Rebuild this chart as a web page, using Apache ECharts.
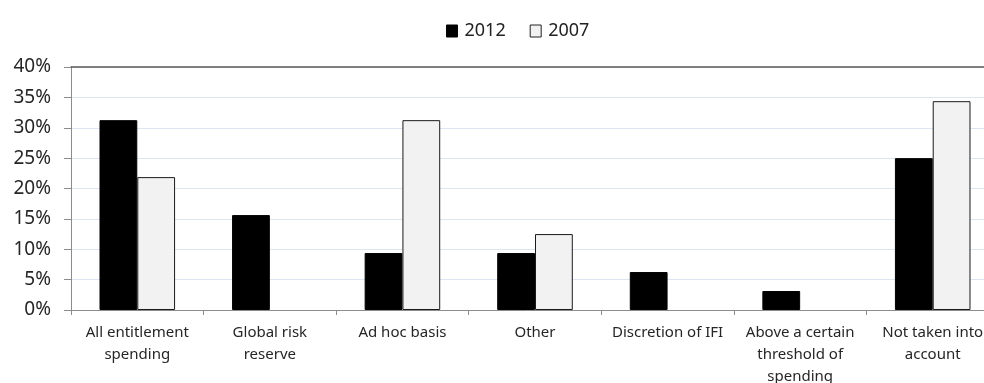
<!DOCTYPE html>
<html>
<head>
<meta charset="utf-8">
<script src="https://cdn.jsdelivr.net/npm/echarts@6/dist/echarts.min.js"></script>
<style>
  html, body { margin: 0; padding: 0; background: #fff; }
  #chart { width: 984px; height: 383px; }
</style>
</head>
<body>
<div id="chart"></div>
<script>
// How the fiscal cost is accounted for, share of responses
const categories = [
  'All entitlement\nspending',
  'Global risk\nreserve',
  'Ad hoc basis',
  'Other',
  'Discretion of IFI',
  'Above a certain\nthreshold of\nspending',
  'Not taken into\naccount'
];
const values2012 = [0.3125, 0.15625, 0.09375, 0.09375, 0.0625, 0.03125, 0.25];
const values2007 = [0.21875, 0, 0.3125, 0.125, 0, 0, 0.34375];
const yTicks = [0, 0.05, 0.10, 0.15, 0.20, 0.25, 0.30, 0.35, 0.40];

const FONT = '"Noto Sans", sans-serif';

// empty bars get no outline so a zero share leaves no mark
const asBars = (vals) => vals.map(v => (v === 0 ? { value: v, itemStyle: { borderWidth: 0 } } : v));

const chart = echarts.init(document.getElementById('chart'), null, { renderer: 'canvas' });
chart.setOption({
  animation: false,
  backgroundColor: '#ffffff',
  textStyle: { fontFamily: FONT },
  legend: {
    top: 17,
    left: 441,
    itemWidth: 11,
    itemHeight: 12,
    itemGap: 24,
    textStyle: { fontSize: 18, color: '#222', fontFamily: FONT, padding: [0, 0, 0, 2] },
    data: [
      { name: '2012', icon: 'rect', itemStyle: { color: '#000', borderColor: '#000', borderWidth: 1 } },
      { name: '2007', icon: 'rect', itemStyle: { color: '#f2f2f2', borderColor: '#222', borderWidth: 1 } }
    ]
  },
  grid: { left: 71, width: 928, top: 67, height: 243, containLabel: false, outerBoundsMode: 'none' },
  xAxis: [
    {
      type: 'category',
      data: categories,
      boundaryGap: true,
      axisLine: { lineStyle: { color: '#8c8c8c', width: 1 } },
      axisTick: { show: true, length: 5, alignWithLabel: false, lineStyle: { color: '#8c8c8c' } },
      axisLabel: {
        interval: 0,
        margin: 12,
        fontSize: 15,
        lineHeight: 22,
        color: '#262626',
        fontFamily: FONT
      }
    },
    {
      type: 'category',
      position: 'top',
      data: categories,
      axisLine: { lineStyle: { color: '#595959', width: 1.5 } },
      axisTick: { show: false },
      axisLabel: { show: false }
    }
  ],
  yAxis: {
    type: 'value',
    min: 0,
    max: 0.40,
    interval: 0.05,
    axisLine: { show: true, lineStyle: { color: '#8c8c8c' } },
    axisTick: { show: true, length: 7, lineStyle: { color: '#8c8c8c' } },
    splitLine: { show: true, lineStyle: { color: '#dce6f2', width: 1 } },
    axisLabel: {
      margin: 20,
      fontSize: 19,
      color: '#262626',
      fontFamily: FONT,
      formatter: v => {
        const t = yTicks.find(x => Math.abs(x - v) < 1e-9);
        return Math.round((t !== undefined ? t : v) * 100) + '%';
      }
    }
  },
  series: [
    {
      name: '2012',
      type: 'bar',
      data: asBars(values2012),
      barGap: '0%',
      barCategoryGap: '43%',
      itemStyle: { color: '#000000', borderColor: '#000', borderWidth: 1 }
    },
    {
      name: '2007',
      type: 'bar',
      data: asBars(values2007),
      itemStyle: { color: '#f2f2f2', borderColor: '#1a1a1a', borderWidth: 1 }
    }
  ]
});
</script>
</body>
</html>
